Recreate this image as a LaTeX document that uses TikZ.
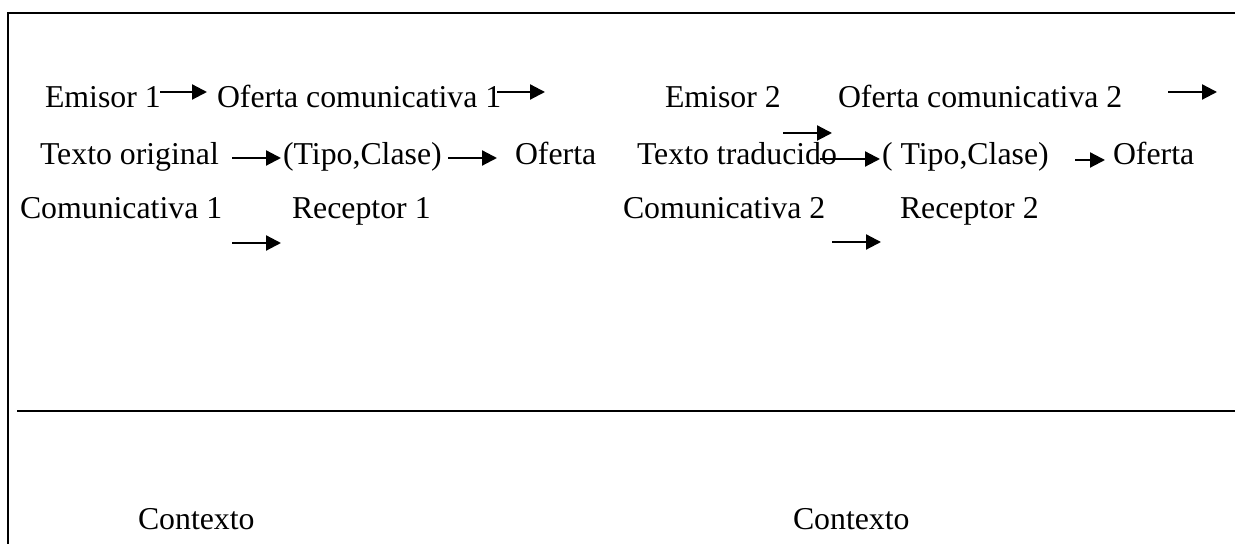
\documentclass[tikz,border=0pt]{standalone}
\usepackage{fontspec}
\setmainfont{Liberation Serif}
\usetikzlibrary{arrows.meta}
\begin{document}
\begin{tikzpicture}[x=0.5pt,y=-0.5pt,
  lbl/.style={anchor=base west, inner sep=0pt, outer sep=0pt, font=\fontsize{15.9}{19}\selectfont},
  flow/.style={line width=1.1pt, -{Triangle[length=7.5pt,width=7.5pt]}},
  frame/.style={line width=1.3pt}]
\useasboundingbox (0,0) rectangle (1235,544);
% frame
\coordinate (tl) at (8,13);
\coordinate (tr) at (1235,13);
\coordinate (bl) at (8,544);
\coordinate (hl) at (17,411);
\coordinate (hr) at (1235,411);
\draw[frame] (bl) -- (tl) -- (tr);
\draw[frame] (hl) -- (hr);
% row 1
\node[lbl] (e1) at (45,108) {Emisor 1};
\node[lbl] (o1) at (217,108) {Oferta comunicativa 1};
\node[lbl] (e2) at (665,108) {Emisor 2};
\node[lbl] (o2) at (838,108) {Oferta comunicativa 2};
% row 2
\node[lbl] (t1) at (40,165) {Texto original};
\node[lbl] (c1) at (283,165) {(Tipo,Clase)};
\node[lbl] (f1) at (515,165) {Oferta};
\node[lbl] (t2) at (637,165) {Texto traducido};
\node[lbl] (c2) at (882,165) {( Tipo,Clase)};
\node[lbl] (f2) at (1113,165) {Oferta};
% row 3
\node[lbl] (k1) at (20,219) {Comunicativa 1};
\node[lbl] (r1) at (292,219) {Receptor 1};
\node[lbl] (k2) at (623,219) {Comunicativa 2};
\node[lbl] (r2) at (900,219) {Receptor 2};
% context
\node[lbl] (x1) at (138,529) {Contexto};
\node[lbl] (x2) at (793,529) {Contexto};
% arrow end points
\coordinate (a1s) at (160,92);  \coordinate (a1e) at (207,92);
\coordinate (a2s) at (497,92);  \coordinate (a2e) at (545,92);
\coordinate (a3s) at (1168,92); \coordinate (a3e) at (1217,92);
\coordinate (a4s) at (232,158); \coordinate (a4e) at (281,158);
\coordinate (a5s) at (448,158); \coordinate (a5e) at (497,158);
\coordinate (a6s) at (783,133); \coordinate (a6e) at (832,133);
\coordinate (a7s) at (820,159); \coordinate (a7e) at (880,159);
\coordinate (a8s) at (1075,160); \coordinate (a8e) at (1105,160);
\coordinate (a9s) at (232,243); \coordinate (a9e) at (281,243);
\coordinate (a10s) at (832,242); \coordinate (a10e) at (881,242);
\foreach \i in {1,...,10} \draw[flow] (a\i s) -- (a\i e);
\end{tikzpicture}
\end{document}
